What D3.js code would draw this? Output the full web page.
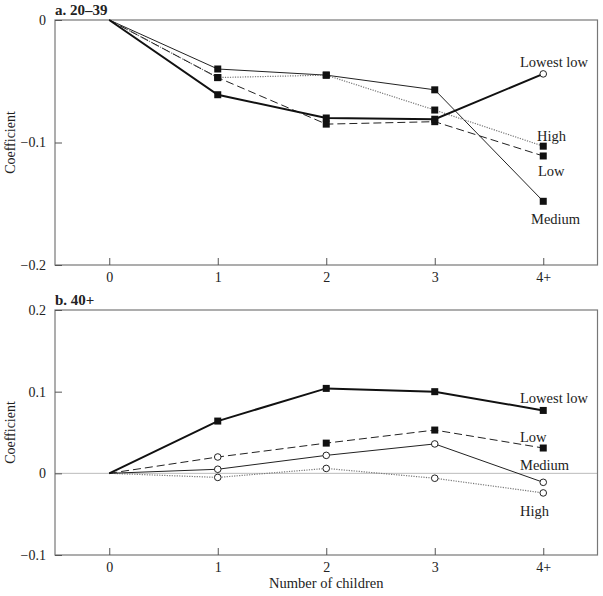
<!DOCTYPE html>
<html><head><meta charset="utf-8">
<script src="https://cdn.jsdelivr.net/npm/d3@7"></script>
<style>
body{margin:0;background:#fff;}
svg text{font-family:"Liberation Serif","DejaVu Serif",serif;fill:#222;}
</style></head>
<body><svg id="c" width="603" height="596"></svg>
<script>
// ---- data ----
const categories = ["0","1","2","3","4+"];
const seriesNames = ["Lowest low","Low","Medium","High"];
const panelTitles = ["a. 20–39","b. 40+"];

const lowestLowA = [0,-0.061,-0.080,-0.081,-0.044];
const lowA       = [0,-0.047,-0.085,-0.083,-0.111];
const mediumA    = [0,-0.040,-0.045,-0.057,-0.148];
const highA      = [0,-0.047,-0.045,-0.0735,-0.103];
// 1 = significant (filled square), 0 = not (open circle), null = reference
const sigLowestLowA = [null,1,1,1,0];
const sigLowA       = [null,1,1,1,1];
const sigMediumA    = [null,1,1,1,1];
const sigHighA      = [null,1,1,1,1];

const lowestLowB = [0,0.064,0.104,0.100,0.077];
const lowB       = [0,0.020,0.037,0.053,0.031];
const mediumB    = [0,0.005,0.022,0.036,-0.011];
const highB      = [0,-0.005,0.006,-0.006,-0.024];
const sigLowestLowB = [null,1,1,1,1];
const sigLowB       = [null,0,1,1,1];
const sigMediumB    = [null,0,0,0,0];
const sigHighB      = [null,0,0,0,0];

const yTicksA = [0,-0.1,-0.2];
const yTicksB = [-0.1,0,0.1,0.2];
const yDomainA = [-0.2,0];
const yDomainB = [-0.1,0.2];

// ---- styles ----
const lineStyle = {
  "Lowest low":{w:2,dash:null,color:"#111"},
  "Low":{w:1,dash:"8,4",color:"#222"},
  "Medium":{w:1,dash:null,color:"#222"},
  "High":{w:1.2,dash:"1.2,1.3",color:"#777"}
};
const labelStyleA = {"Lowest low":{x:520,dy:-12},"High":{x:537,dy:-10},"Low":{x:538,dy:15},"Medium":{x:531,dy:18}};
const labelStyleB = {"Lowest low":{x:520,dy:-13},"Low":{x:520,dy:-11},"Medium":{x:520,dy:-17},"High":{x:520,dy:18}};

const svg = d3.select("#c");
const L = 55, R = 597.5;
const xs = d3.scaleLinear().domain([-0.5,4.5]).range([L,R]);
const xp = c => xs(categories.indexOf(c));

function panel(cfg){
  const g = svg.append("g");
  const y = d3.scaleLinear().domain(cfg.domain).range([cfg.bottom,cfg.top]);
  if(cfg.zeroLine){
    g.append("line").attr("x1",L).attr("x2",R).attr("y1",y(0)).attr("y2",y(0))
      .attr("stroke","#bbb").attr("stroke-width",1);
  }
  g.append("rect").attr("x",L).attr("y",cfg.top).attr("width",R-L).attr("height",cfg.bottom-cfg.top)
    .attr("fill","none").attr("stroke","#777").attr("stroke-width",1.2);
  const xa = g.append("g").attr("transform",`translate(0,${cfg.bottom})`)
    .call(d3.axisBottom(d3.scalePoint().domain(categories).range([xp("0"),xp("4+")]))
      .tickSizeInner(-7).tickSizeOuter(0).tickPadding(7));
  xa.select(".domain").remove();
  xa.selectAll(".tick line").attr("stroke","#555");
  xa.selectAll(".tick text").attr("font-size",14).attr("fill","#222");
  const ya = g.append("g").attr("transform",`translate(${L},0)`)
    .call(d3.axisLeft(y).tickValues(cfg.ticks).tickSizeInner(-7).tickSizeOuter(0).tickPadding(9)
      .tickFormat(d => d===0 ? "0" : d3.format(".1f")(d).replace("-","−")));
  ya.select(".domain").remove();
  ya.selectAll(".tick line").attr("stroke","#555");
  ya.selectAll(".tick text").attr("font-size",14).attr("fill","#222");
  g.append("text").attr("x",L).attr("y",cfg.top-5).attr("font-size",15).attr("font-weight","bold").text(cfg.title);
  g.append("text").attr("transform",`translate(15,${(cfg.top+cfg.bottom)/2}) rotate(-90)`)
    .attr("text-anchor","middle").attr("font-size",14).text("Coefficient");
  const line = d3.line().x((d,i)=>xp(categories[i])).y(d=>y(d));
  cfg.series.forEach(s=>{
    const st = lineStyle[s.name];
    g.append("path").datum(s.values).attr("d",line).attr("fill","none")
      .attr("stroke",st.color).attr("stroke-width",st.w)
      .attr("stroke-dasharray",st.dash);
  });
  cfg.series.forEach(s=>{
    s.values.forEach((v,i)=>{
      const sg = s.sig[i];
      if(sg===null) return;
      const cx = xp(categories[i]), cy = y(v);
      if(sg===1){
        g.append("rect").attr("x",cx-3.5).attr("y",cy-3.5).attr("width",7).attr("height",7).attr("fill","#111");
      } else {
        g.append("circle").attr("cx",cx).attr("cy",cy).attr("r",3.3).attr("fill","#fff")
          .attr("stroke","#222").attr("stroke-width",1);
      }
    });
    const ls = cfg.labels[s.name];
    const last = s.values[s.values.length-1];
    g.append("text").attr("x",ls.x).attr("y",y(last)+ls.dy).attr("dy","0.35em")
      .attr("font-size",14.5).text(s.name);
  });
}

panel({top:20,bottom:265,domain:yDomainA,ticks:yTicksA,title:panelTitles[0],zeroLine:false,labels:labelStyleA,
  series:[
    {name:seriesNames[2],values:mediumA,sig:sigMediumA},
    {name:seriesNames[3],values:highA,sig:sigHighA},
    {name:seriesNames[1],values:lowA,sig:sigLowA},
    {name:seriesNames[0],values:lowestLowA,sig:sigLowestLowA}
  ]});
panel({top:310,bottom:555,domain:yDomainB,ticks:yTicksB,title:panelTitles[1],zeroLine:true,labels:labelStyleB,
  series:[
    {name:seriesNames[3],values:highB,sig:sigHighB},
    {name:seriesNames[2],values:mediumB,sig:sigMediumB},
    {name:seriesNames[1],values:lowB,sig:sigLowB},
    {name:seriesNames[0],values:lowestLowB,sig:sigLowestLowB}
  ]});

svg.append("text").attr("x",(L+R)/2).attr("y",588).attr("text-anchor","middle").attr("font-size",14.5).text("Number of children");
</script></body></html>
